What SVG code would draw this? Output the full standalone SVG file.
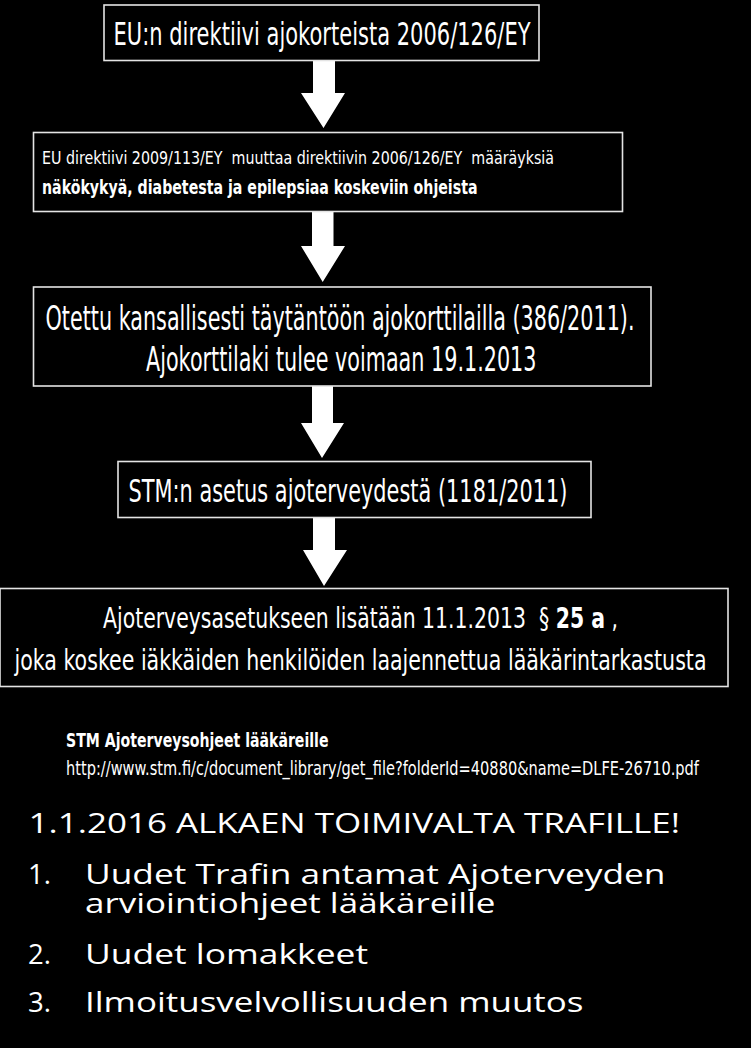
<svg xmlns="http://www.w3.org/2000/svg" width="751" height="1048" viewBox="0 0 751 1048">
<style>
.bg{fill:#000}
.box{fill:#000;stroke:#e4e4e4;stroke-width:1.6}
.arrow{fill:#fff}
.t{font-family:"DejaVu Sans","Liberation Sans",sans-serif;fill:#fff}
.b{font-weight:bold}
.s{font-family:"Open Sans","Noto Sans","Liberation Sans",sans-serif;fill:#fff}
</style>
<rect class="bg" x="0" y="0" width="751" height="1048"/>
<g id="connectors">
<polygon class="arrow" points="313,60 335,60 335,93 345,93 323.5,128 301,93 313,93"/>
<polygon class="arrow" points="312,212 333.5,212 333.5,246 345,246 322.7,282 301,246 312,246"/>
<polygon class="arrow" points="312,386 333,386 333,423 344,423 322,458 301,423 312,423"/>
<polygon class="arrow" points="313,517 335,517 335,550 347,550 324,586 303,550 313,550"/>
</g>
<g id="node1">
<rect class="box" x="104" y="5" width="435" height="55.5"/>
<text class="t" transform="translate(113.5,45) scale(0.55,1)" x="0" y="0" font-size="32" textLength="758.2" lengthAdjust="spacingAndGlyphs">EU:n direktiivi ajokorteista 2006/126/EY</text>
</g>
<g id="node2">
<rect class="box" x="33.5" y="132.5" width="589" height="79"/>
<text class="t" transform="translate(42,163.5) scale(0.55,1)" x="0" y="0" font-size="18.5" textLength="930.9" lengthAdjust="spacingAndGlyphs" xml:space="preserve">EU direktiivi 2009/113/EY  muuttaa direktiivin 2006/126/EY  määräyksiä</text>
<text class="t b" transform="translate(42,194) scale(0.55,1)" x="0" y="0" font-size="20" textLength="791.8" lengthAdjust="spacingAndGlyphs">näkökykyä, diabetesta ja epilepsiaa koskeviin ohjeista</text>
</g>
<g id="node3">
<rect class="box" x="33.5" y="287" width="617.5" height="99"/>
<text class="t" transform="translate(45.5,329.5) scale(0.55,1)" x="0" y="0" font-size="34" textLength="1070.9" lengthAdjust="spacingAndGlyphs">Otettu kansallisesti täytäntöön ajokorttilailla (386/2011).</text>
<text class="t" transform="translate(146,370.5) scale(0.55,1)" x="0" y="0" font-size="34" textLength="710" lengthAdjust="spacingAndGlyphs">Ajokorttilaki tulee voimaan 19.1.2013</text>
</g>
<g id="node4">
<rect class="box" x="118" y="461.5" width="473" height="56"/>
<text class="t" transform="translate(128.5,501.5) scale(0.55,1)" x="0" y="0" font-size="32" textLength="798.2" lengthAdjust="spacingAndGlyphs">STM:n asetus ajoterveydestä (1181/2011)</text>
</g>
<g id="node5">
<rect class="box" x="0" y="588.5" width="728" height="98"/>
<text class="t" transform="translate(103,628) scale(0.55,1)" x="0" y="0" font-size="29" textLength="936.4" lengthAdjust="spacingAndGlyphs" xml:space="preserve">Ajoterveysasetukseen lisätään 11.1.2013  § <tspan class="b">25 a</tspan> ,</text>
<text class="t" transform="translate(14.5,670) scale(0.55,1)" x="0" y="0" font-size="29" textLength="1258.2" lengthAdjust="spacingAndGlyphs">joka koskee iäkkäiden henkilöiden laajennettua lääkärintarkastusta</text>
</g>
<g id="reference">
<text class="t b" transform="translate(66,746.5) scale(0.55,1)" x="0" y="0" font-size="19" textLength="477.3" lengthAdjust="spacingAndGlyphs">STM Ajoterveysohjeet lääkäreille</text>
<text class="t" transform="translate(66,775) scale(0.55,1)" x="0" y="0" font-size="19" textLength="1150.9" lengthAdjust="spacingAndGlyphs">http://www.stm.fi/c/document_library/get_file?folderId=40880&amp;name=DLFE-26710.pdf</text>
</g>
<g id="notes">
<text class="s" x="28.5" y="832.5" font-size="27.5" textLength="651.5" lengthAdjust="spacingAndGlyphs">1.1.2016 ALKAEN TOIMIVALTA TRAFILLE!</text>
<text class="s" x="28" y="883.5" font-size="27.5">1.</text>
<text class="s" font-size="27.5"><tspan x="85" y="883.5" textLength="580.5" lengthAdjust="spacingAndGlyphs">Uudet Trafin antamat Ajoterveyden</tspan><tspan x="85" y="912.5" textLength="410.5" lengthAdjust="spacingAndGlyphs">arviointiohjeet lääkäreille</tspan></text>
<text class="s" x="28" y="963.5" font-size="27.5">2.</text>
<text class="s" x="85" y="963.5" font-size="27.5" textLength="283" lengthAdjust="spacingAndGlyphs">Uudet lomakkeet</text>
<text class="s" x="28" y="1011.5" font-size="27.5">3.</text>
<text class="s" x="85" y="1011.5" font-size="27.5" textLength="498.5" lengthAdjust="spacingAndGlyphs">Ilmoitusvelvollisuuden muutos</text>
</g>
</svg>
